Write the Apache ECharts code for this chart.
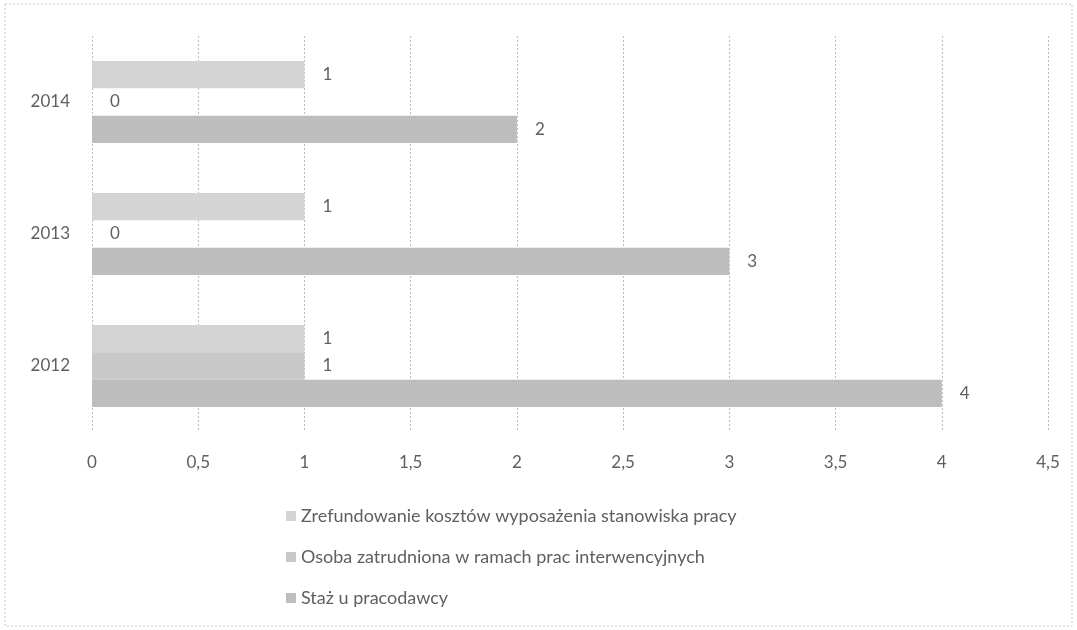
<!DOCTYPE html>
<html>
<head>
<meta charset="utf-8">
<script src="https://cdn.jsdelivr.net/npm/echarts@6/dist/echarts.min.js"></script>
<style>html,body{margin:0;padding:0;background:#fff}#c{width:1077px;height:630px}</style>
</head>
<body>
<div id="c"></div>
<script>
const categories = ['2012', '2013', '2014'];
const seriesNames = [
  'Zrefundowanie kosztów wyposażenia stanowiska pracy',
  'Osoba zatrudniona w ramach prac interwencyjnych',
  'Staż u pracodawcy'
];
const zrefundowanie = [1, 1, 1];
const osoba = [1, 0, 0];
const staz = [4, 3, 2];
const xTicks = [0, 0.5, 1, 1.5, 2, 2.5, 3, 3.5, 4, 4.5];

const chart = echarts.init(document.getElementById('c'));
const txt = '#5f5f5f';
const font = 'Lato, "Open Sans", sans-serif';
const label = {show: true, position: 'right', distance: 18, color: txt, fontSize: 17, fontFamily: font};
chart.setOption({
  animation: false,
  backgroundColor: '#fff',
  graphic: [{type: 'rect', shape: {x: 5, y: 4, width: 1067, height: 622}, style: {fill: 'none', stroke: '#c8c8c8', lineWidth: 1, lineDash: [2, 2]}, silent: true}],
  grid: {left: 92, right: 29, top: 36, bottom: 198, containLabel: false},
  xAxis: {
    type: 'value', min: xTicks[0], max: xTicks[xTicks.length - 1], interval: 0.5,
    axisLine: {show: false}, axisTick: {show: false},
    splitLine: {show: true, lineStyle: {color: '#bdbdbd', type: [2, 2], width: 1}},
    axisLabel: {color: txt, fontSize: 17, fontFamily: font, margin: 22,
      formatter: v => String(v).replace('.', ',')}
  },
  yAxis: {
    type: 'category', data: categories,
    axisLine: {show: false}, axisTick: {show: false},
    axisLabel: {color: txt, fontSize: 17, fontFamily: font, margin: 22}
  },
  legend: {
    orient: 'vertical', left: 281, top: 502, itemGap: 23,
    itemWidth: 10, itemHeight: 10, icon: 'rect',
    data: seriesNames,
    textStyle: {color: txt, fontSize: 18, fontFamily: font}
  },
  series: [
    {name: seriesNames[0], type: 'bar', data: zrefundowanie, itemStyle: {color: '#d4d4d4'}, label, barGap: '0%', barCategoryGap: '38%'},
    {name: seriesNames[1], type: 'bar', data: osoba, itemStyle: {color: '#c8c8c8'}, label, barGap: '0%', barCategoryGap: '38%'},
    {name: seriesNames[2], type: 'bar', data: staz, itemStyle: {color: '#bdbdbd'}, label, barGap: '0%', barCategoryGap: '38%'}
  ]
});
</script>
</body>
</html>
